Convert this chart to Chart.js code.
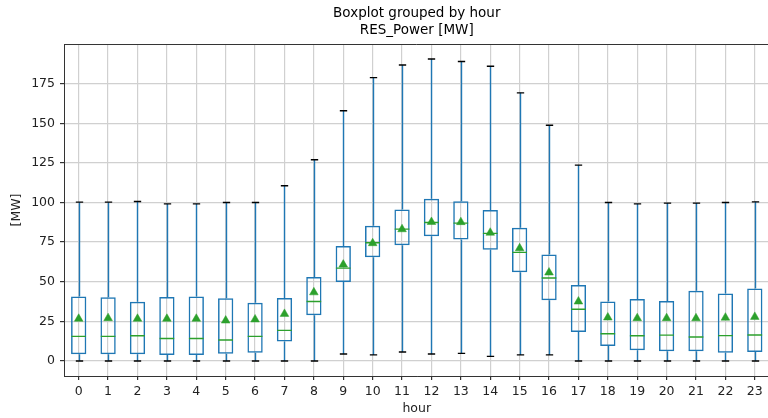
<!DOCTYPE html>
<html>
<head>
<meta charset="utf-8">
<script src="https://cdn.jsdelivr.net/npm/chart.js@4/dist/chart.umd.min.js"></script>
<style>
  html, body { margin: 0; padding: 0; background: #fff; overflow: hidden; }
  canvas { display: block; }
</style>
</head>
<body>
<canvas id="chart" width="775" height="418"></canvas>
<script>
// Hourly distribution of RES power [MW]
const hours = ['0','1','2','3','4','5','6','7','8','9','10','11','12','13','14','15','16','17','18','19','20','21','22','23'];
const whiskerLow  = [0, 0, 0, 0, 0, 0, 0, 0, 0, 4.4, 3.8, 5.6, 4.4, 4.8, 2.9, 3.8, 3.8, 0, 0, 0, 0, 0, 0, 0];
const q1          = [4.2, 4.2, 4.2, 3.8, 3.8, 4.6, 5.2, 12.2, 28.9, 49.8, 65.5, 73.0, 78.7, 76.6, 70.2, 56.0, 38.3, 18.2, 9.4, 6.7, 6.1, 6.1, 5.2, 5.6];
const median      = [15.5, 15.5, 15.9, 14.2, 14.2, 13.2, 15.5, 19.3, 37.5, 58.6, 74.6, 83.2, 87.4, 87.0, 80.5, 68.5, 52.3, 32.6, 17.2, 15.9, 16.3, 15.1, 16.0, 16.4];
const q3          = [40.6, 40.2, 37.4, 40.4, 40.6, 39.5, 36.8, 39.7, 52.9, 72.6, 85.3, 95.6, 102.3, 100.8, 95.2, 84.1, 67.1, 47.9, 37.5, 39.1, 37.9, 44.3, 42.5, 45.7];
const whiskerHigh = [100.2, 100.2, 100.6, 99.1, 99.1, 100.0, 100.0, 110.6, 127.0, 157.9, 178.8, 186.8, 190.5, 189.0, 186.0, 169.2, 148.7, 123.6, 100.0, 99.1, 99.6, 99.6, 100.0, 100.4];
const mean        = [26.6, 27.0, 26.6, 26.6, 26.6, 25.5, 26.2, 29.7, 43.3, 60.8, 74.3, 83.1, 87.7, 87.6, 80.9, 71.1, 55.8, 37.5, 27.4, 27.0, 27.0, 26.9, 27.3, 27.8];
const yTicks = [0, 25, 50, 75, 100, 125, 150, 175];

const BLUE = '#1f77b4';
const GREEN = '#2ca02c';
const FONT = 'DejaVu Sans';

// Whiskers, caps, medians and the top frame line
const boxParts = {
  id: 'boxParts',
  beforeDatasetsDraw(chart) {
    const { ctx, scales: { x, y } } = chart;
    const step = x.getPixelForValue(1) - x.getPixelForValue(0);
    const capHalf = step * 0.125;
    ctx.save();
    hours.forEach((h, i) => {
      const px = Math.round(x.getPixelForValue(i)) + 0.5;
      ctx.strokeStyle = BLUE;
      ctx.lineWidth = 1.4;
      ctx.beginPath();
      ctx.moveTo(px, y.getPixelForValue(q3[i]));
      ctx.lineTo(px, y.getPixelForValue(whiskerHigh[i]));
      ctx.moveTo(px, y.getPixelForValue(q1[i]));
      ctx.lineTo(px, y.getPixelForValue(whiskerLow[i]));
      ctx.stroke();
      ctx.strokeStyle = '#000';
      ctx.lineWidth = 1.4;
      ctx.beginPath();
      [whiskerHigh[i], whiskerLow[i]].forEach(v => {
        const py = y.getPixelForValue(v);
        ctx.moveTo(px - capHalf, py);
        ctx.lineTo(px + capHalf, py);
      });
      ctx.stroke();
    });
    ctx.restore();
  },
  afterDatasetDraw(chart, args) {
    if (args.index !== 0) return;
    const { ctx, scales: { x, y } } = chart;
    const step = x.getPixelForValue(1) - x.getPixelForValue(0);
    const half = step * 0.25;
    ctx.save();
    ctx.strokeStyle = GREEN;
    ctx.lineWidth = 1.4;
    ctx.beginPath();
    hours.forEach((h, i) => {
      const px = x.getPixelForValue(i);
      const py = y.getPixelForValue(median[i]);
      ctx.moveTo(px - half, py);
      ctx.lineTo(px + half, py);
    });
    ctx.stroke();
    ctx.restore();
  },
  afterDraw(chart) {
    const { ctx, chartArea: a } = chart;
    ctx.save();
    ctx.strokeStyle = '#333';
    ctx.lineWidth = 1;
    ctx.beginPath();
    ctx.moveTo(a.left, a.top + 0.5);
    ctx.lineTo(a.right, a.top + 0.5);
    ctx.lineTo(a.right - 0.5, a.bottom);
    ctx.stroke();
    ctx.restore();
  }
};

new Chart(document.getElementById('chart'), {
  data: {
    labels: hours,
    datasets: [
      {
        type: 'bar',
        label: 'IQR',
        data: q1.map((v, i) => [v, q3[i]]),
        backgroundColor: 'rgba(0,0,0,0)',
        borderColor: BLUE,
        borderWidth: 1.5,
        borderSkipped: false,
        barPercentage: 0.52,
        categoryPercentage: 1,
        order: 2
      },
      {
        type: 'line',
        label: 'mean',
        data: mean,
        showLine: false,
        pointStyle: 'triangle',
        pointRadius: 5,
        pointBackgroundColor: GREEN,
        pointBorderColor: GREEN,
        pointBorderWidth: 0.5,
        order: 1
      }
    ]
  },
  options: {
    responsive: false,
    animation: false,
    layout: { padding: { left: 0, right: 1, top: 0, bottom: 0 } },
    plugins: {
      legend: { display: false },
      tooltip: { enabled: false },
      title: {
        display: true,
        fullSize: false,
        text: ['Boxplot grouped by hour', 'RES_Power [MW]'],
        color: '#000',
        font: { family: FONT, size: 13.5, weight: 'normal', lineHeight: 1.26 },
        padding: { top: 5, bottom: 5 }
      }
    },
    scales: {
      x: {
        type: 'category',
        offset: true,
        grid: { offset: false, color: '#d0d0d0', lineWidth: 1.2, drawTicks: true, tickLength: 4, tickColor: '#333' },
        border: { color: '#333', width: 1 },
        ticks: { color: '#222', font: { family: FONT, size: 12.5 }, padding: 4, maxRotation: 0, autoSkip: false },
        title: { display: true, text: 'hour', color: '#222', font: { family: FONT, size: 12.5 }, padding: { top: 0, bottom: 2 } },
        afterFit(scale) { scale.height = 42; }
      },
      y: {
        type: 'linear',
        min: -9.5,
        max: 200,
        grid: { color: '#d0d0d0', lineWidth: 1.2, drawTicks: true, tickLength: 4, tickColor: '#333' },
        border: { color: '#333', width: 1 },
        ticks: { color: '#222', font: { family: FONT, size: 12.5 }, padding: 5 },
        afterBuildTicks(scale) { scale.ticks = yTicks.map(v => ({ value: v })); },
        title: { display: true, text: '[MW]', color: '#222', font: { family: FONT, size: 12.5 }, padding: { top: 9.5, bottom: 0 } },
        afterFit(scale) { scale.width = 64; }
      }
    }
  },
  plugins: [boxParts]
});
</script>
</body>
</html>
